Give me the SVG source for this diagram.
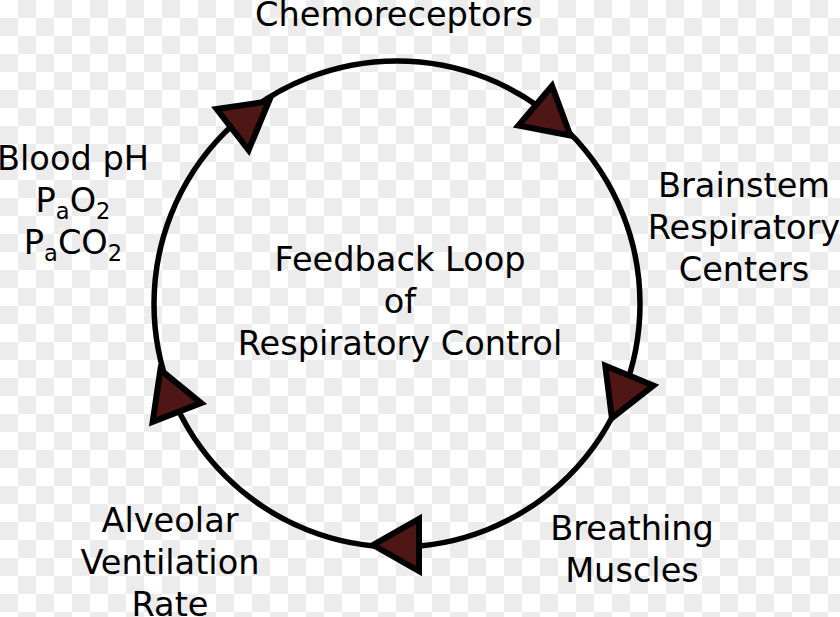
<svg xmlns="http://www.w3.org/2000/svg" width="840" height="617" viewBox="0 0 840 617">
  <style>
    .lbl { font-family: "DejaVu Sans", "Liberation Sans", sans-serif; font-size: 33.6px; fill: #000; text-anchor: middle; }
    .sub { font-size: 22.5px; }
    .loop { fill: none; stroke: #000; stroke-width: 5.5; }
    .head { fill: #4f1616; stroke: #000; stroke-width: 6; stroke-linejoin: miter; stroke-miterlimit: 10; }
  </style>
  <defs>
    <pattern id="checker" patternUnits="userSpaceOnUse" width="36" height="36">
      <rect width="36" height="36" fill="#ffffff"/>
      <rect x="18" y="0" width="18" height="18" fill="#ececec"/>
      <rect x="0" y="18" width="18" height="18" fill="#ececec"/>
    </pattern>
    <path id="arrowhead" d="M24,0 L-22,-26 L-22,26 Z"/>
  </defs>

  <rect width="840" height="617" fill="url(#checker)"/>

  <g id="connectors">
    <circle class="loop" cx="397" cy="304" r="243"/>
    <use href="#arrowhead" class="head" transform="translate(250,116) rotate(-37.9)"/>
    <use href="#arrowhead" class="head" transform="translate(552,120) rotate(40.3)"/>
    <use href="#arrowhead" class="head" transform="translate(621,396) rotate(112.3)"/>
    <use href="#arrowhead" class="head" transform="translate(397,545) rotate(180)"/>
    <use href="#arrowhead" class="head" transform="translate(169,392) rotate(248.9)"/>
  </g>

  <g id="chemoreceptors">
    <text class="lbl" x="394" y="26">Chemoreceptors</text>
  </g>

  <g id="brainstem">
    <text class="lbl" x="744" y="197">Brainstem</text>
    <text class="lbl" x="744" y="239">Respiratory</text>
    <text class="lbl" x="744" y="281">Centers</text>
  </g>

  <g id="breathing-muscles">
    <text class="lbl" x="632" y="540">Breathing</text>
    <text class="lbl" x="632" y="582">Muscles</text>
  </g>

  <g id="alveolar-ventilation">
    <text class="lbl" x="170" y="532">Alveolar</text>
    <text class="lbl" x="170" y="574">Ventilation</text>
    <text class="lbl" x="170" y="616">Rate</text>
  </g>

  <g id="blood-gases">
    <text class="lbl" x="73" y="170">Blood pH</text>
    <text class="lbl" x="73" y="212">P<tspan class="sub" dy="7">a</tspan><tspan dy="-7">O</tspan><tspan class="sub" dy="7">2</tspan></text>
    <text class="lbl" x="73" y="254">P<tspan class="sub" dy="7">a</tspan><tspan dy="-7">CO</tspan><tspan class="sub" dy="7">2</tspan></text>
  </g>

  <g id="center-title">
    <text class="lbl" x="400" y="271">Feedback Loop</text>
    <text class="lbl" x="400" y="313">of</text>
    <text class="lbl" x="400" y="355">Respiratory Control</text>
  </g>
</svg>
